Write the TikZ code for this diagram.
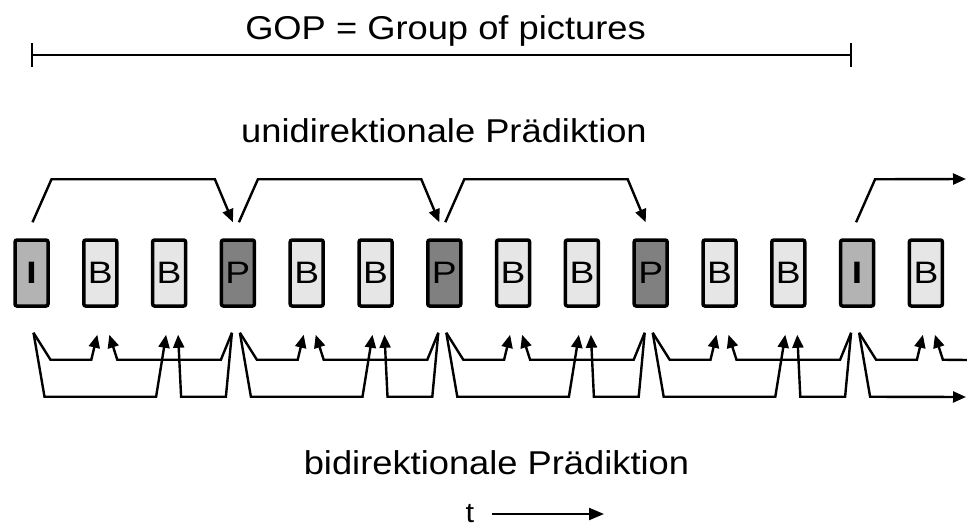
\documentclass[tikz,border=0pt]{standalone}
\usepackage{fontspec}
\usepackage{graphicx}
\setmainfont{Liberation Sans}
\usetikzlibrary{arrows.meta,calc}
\definecolor{ifill}{HTML}{B3B3B3}
\definecolor{bfill}{HTML}{E6E6E6}
\definecolor{pfill}{HTML}{808080}
\newcommand\wide[1]{\scalebox{1.1}[1]{#1}}
\newcommand\boxwide[1]{\scalebox{1.2}[1]{#1}}
\newcommand\gopgroup[4]{%
  \draw[arr] ($(#1.south)+(2,25)$) -- ++(17,27) -- ($(#2.south)+(-9,52)$) -- ($(#2.south)+(-3,27)$);
  \draw[arr] ($(#1.south)+(2,25)$) -- ++(11,64) -- ($(#3.south)+(-13,89)$) -- ($(#3.south)+(-3,27)$);
  \draw[arr] ($(#4.south)+(-6,25)$) -- ++(-11,27) -- ($(#2.south)+(17,52)$) -- ($(#2.south)+(9,27)$);
  \draw[arr] ($(#4.south)+(-6,25)$) -- ++(-6,64) -- ($(#3.south)+(12,89)$) -- ($(#3.south)+(9,27)$);
}
\newcommand\uniarrow[2]{%
  \draw[arr] ($(#1.north)+(1,-16)$) -- ++(19,-43) -- ($(#2.north)+(-23,-59)$) -- ($(#2.north)+(-5,-16)$);
}
\begin{document}
\begin{tikzpicture}[x=1pt,y=-1pt,
  frame/.style={draw=black, line width=3.5pt, rounded corners=2pt,
    minimum width=33pt, minimum height=66pt, inner sep=0pt,
    font=\fontsize{31}{31}\selectfont},
  iframe/.style={frame, fill=ifill},
  bframe/.style={frame, fill=bfill},
  pframe/.style={frame, fill=pfill},
  arr/.style={line width=2.4pt, line join=miter, -{Triangle[length=13pt,width=11pt]}},
  label/.style={anchor=base, inner sep=0pt, font=\fontsize{33}{33}\selectfont}
]
\useasboundingbox (0,0) rectangle (967,528);

% GOP bar
\node[label] (gop) at (445.5,39) {\wide{GOP = Group of pictures}};
\coordinate (gopL) at (31,55);
\coordinate (gopR) at (852,55);
\draw[line width=2pt, {Bar[width=24pt,line width=2pt]}-{Bar[width=24pt,line width=2pt]}] (gopL) -- (gopR);

\node[label] (uni) at (444,142) {\wide{unidirektionale Prädiktion}};
\node[label] (bi) at (496.5,474) {\wide{bidirektionale Prädiktion}};
\node[label, font=\fontsize{28}{28}\selectfont] (t) at (470,522) {\wide{t}};
\coordinate (tstart) at (492,514);
\coordinate (tend) at (604,514);
\draw[line width=2.2pt, -{Triangle[length=15pt,width=12pt]}] (tstart) -- (tend);

% frames
\foreach \n/\k/\s in {0/iframe/\textbf{I},1/bframe/B,2/bframe/B,3/pframe/P,4/bframe/B,5/bframe/B,6/pframe/P,
                      7/bframe/B,8/bframe/B,9/pframe/P,10/bframe/B,11/bframe/B,12/iframe/\textbf{I},13/bframe/B}
  \node[\k] (f\n) at ({31.5+68.8*\n},273) {\boxwide{\s}};

% unidirectional prediction
\uniarrow{f0}{f3}
\uniarrow{f3}{f6}
\uniarrow{f6}{f9}
\coordinate (topend) at (966,179);
\draw[arr] ($(f12.north)+(-1,-16)$) -- ++(19,-43) -- (topend);

% bidirectional prediction
\gopgroup{f0}{f1}{f2}{f3}
\gopgroup{f3}{f4}{f5}{f6}
\gopgroup{f6}{f7}{f8}{f9}
\gopgroup{f9}{f10}{f11}{f12}
\coordinate (botend) at (966,397);
\coordinate (midstart) at (968,360);
\draw[arr] ($(f12.south)+(2,25)$) -- ++(17,27) -- ($(f13.south)+(-9,52)$) -- ($(f13.south)+(-3,27)$);
\draw[arr] ($(f12.south)+(2,25)$) -- ++(11,64) -- (botend);
\draw[arr] (midstart) -- ($(f13.south)+(17,52)$) -- ($(f13.south)+(9,27)$);
\end{tikzpicture}
\end{document}
